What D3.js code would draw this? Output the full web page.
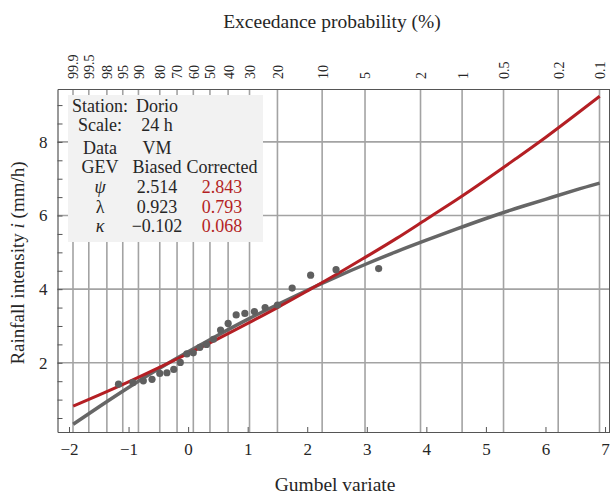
<!DOCTYPE html>
<html><head><meta charset="utf-8">
<script src="https://cdn.jsdelivr.net/npm/d3@7"></script>
<style>body{margin:0;background:#fff}</style>
</head><body><svg id="c" width="611" height="495"></svg>
<script>
// Observed annual maxima (Gumbel plotting positions and intensities, mm/h)
const obsGumbel = [-1.169,-0.927,-0.752,-0.606,-0.476,-0.356,-0.241,-0.131,-0.021,0.087,0.197,0.309,0.425,0.545,0.672,0.807,0.953,1.113,1.293,1.500,1.747,2.057,2.484,3.199];
const obsIntensity = [1.42,1.46,1.51,1.55,1.71,1.73,1.82,2.01,2.24,2.27,2.42,2.50,2.64,2.89,3.07,3.30,3.34,3.39,3.50,3.57,4.03,4.38,4.53,4.56];

// Fitted curves
const curveGumbel = [-1.93,-1.5,-1,-0.5,0,0.5,1,1.5,2,2.5,3,3.5,4,4.5,5,5.5,6,6.5,6.91];
const correctedIntensity = [0.82,1.12,1.48,1.86,2.25,2.65,3.07,3.50,3.95,4.41,4.89,5.38,5.90,6.42,6.97,7.54,8.12,8.73,9.24];
const biasedIntensity = [0.33,0.80,1.33,1.83,2.30,2.75,3.18,3.58,3.97,4.34,4.69,5.02,5.33,5.63,5.92,6.19,6.44,6.69,6.88];

// Axis ticks
const probTicks = [99.9,99.5,98,95,90,80,70,60,50,40,30,20,10,5,2,1,0.5,0.2,0.1];
const probLabels = ["99.9","99.5","98","95","90","80","70","60","50","40","30","20","10","5","2","1","0.5","0.2","0.1"];
const gumbelTicks = [-2,-1,0,1,2,3,4,5,6,7];
const intensityTicks = [2,4,6,8];
const intensityMinor = [0.5,1,1.5,2,2.5,3,3.5,4,4.5,5,5.5,6,6.5,7,7.5,8,8.5,9];

// Parameter table
const tableCol1 = ["Station:","Scale:","Data","GEV","ψ","λ","κ"];
const tableCol2 = ["Dorio","24 h","VM","Biased","2.514","0.923","−0.102"];
const tableCol3 = ["","","","Corrected","2.843","0.793","0.068"];

const RED = "#b41f24", GREY = "#666666", GRID = "#a3a3a3", AX = "#555", TXT = "#262626";
const FONT = "'Liberation Serif','Times New Roman',serif";

const L = 57.5, R = 609.5, T = 89, B = 432;
const x = d3.scaleLinear().domain([-2.193, 7.075]).range([L, R]);
const y = d3.scaleLinear().domain([0.12, 9.437]).range([B, T]);
const gumbelOfExceed = p => -Math.log(-Math.log(1 - p / 100));

const svg = d3.select("#c").style("font-family", FONT);

// gridlines
const g = svg.append("g");
g.selectAll(".vg").data(probTicks).enter().append("line")
  .attr("x1", d => x(gumbelOfExceed(d))).attr("x2", d => x(gumbelOfExceed(d)))
  .attr("y1", T).attr("y2", B).attr("stroke", GRID).attr("stroke-width", 1.6);
g.selectAll(".hg").data(intensityTicks).enter().append("line")
  .attr("x1", L).attr("x2", R).attr("y1", d => y(d)).attr("y2", d => y(d))
  .attr("stroke", GRID).attr("stroke-width", 1.6);

// axes
const axB = svg.append("g").attr("transform", `translate(0,${B})`)
  .call(d3.axisBottom(x).tickValues(gumbelTicks).tickSizeInner(-5).tickSizeOuter(0)
    .tickPadding(11).tickFormat(d => d < 0 ? "−" + Math.abs(d) : d));
const axL = svg.append("g").attr("transform", `translate(${L},0)`)
  .call(d3.axisLeft(y).tickValues(intensityMinor).tickSizeInner(-5).tickSizeOuter(0)
    .tickPadding(10).tickFormat(d => intensityTicks.includes(d) ? d : ""));
const axT = svg.append("g").attr("transform", `translate(0,${T})`)
  .call(d3.axisTop(x).tickValues(probTicks.map(gumbelOfExceed)).tickSizeInner(0).tickSizeOuter(0)
    .tickFormat((d, i) => probLabels[i]));
axT.selectAll("text").attr("transform", "rotate(-90)").attr("x", 10).attr("y", 0)
  .attr("dy", "0.35em").attr("text-anchor", "start").attr("font-size", 14);
svg.append("line").attr("x1", R).attr("x2", R).attr("y1", T).attr("y2", B).attr("stroke", AX);

[axB, axL, axT].forEach(a => {
  a.selectAll(".domain").attr("stroke", AX).attr("stroke-width", 1.2);
  a.selectAll(".tick line").attr("stroke", AX);
  a.selectAll("text").attr("fill", TXT).style("font-family", FONT);
});
axB.selectAll("text").attr("font-size", 17);
axL.selectAll("text").attr("font-size", 17);

// table
const tb = svg.append("g");
tb.append("rect").attr("x", 68).attr("y", 95).attr("width", 195).attr("height", 147).attr("fill", "#f2f2f2");
const rowY = [111.5, 131, 154, 173, 193, 212.5, 232];
const colX = [100, 157, 222];
[tableCol1, tableCol2, tableCol3].forEach((col, ci) => {
  tb.selectAll(null).data(col).enter().append("text")
    .attr("x", colX[ci]).attr("y", (d, i) => rowY[i])
    .attr("text-anchor", "middle").attr("font-size", 18)
    .attr("font-style", (d, i) => (ci === 0 && (i === 4 || i === 6)) ? "italic" : "normal")
    .attr("fill", (d, i) => (ci === 2 && i >= 4) ? RED : TXT)
    .text(d => d);
});

// curves
const line = d3.line().x(d => x(d[0])).y(d => y(d[1])).curve(d3.curveNatural);
svg.append("path").datum(curveGumbel.map((v, i) => [v, biasedIntensity[i]]))
  .attr("d", line).attr("fill", "none").attr("stroke", GREY).attr("stroke-width", 3.5);
svg.append("path").datum(curveGumbel.map((v, i) => [v, correctedIntensity[i]]))
  .attr("d", line).attr("fill", "none").attr("stroke", RED).attr("stroke-width", 3);

// points
svg.selectAll(".pt").data(obsGumbel).enter().append("circle")
  .attr("cx", d => x(d)).attr("cy", (d, i) => y(obsIntensity[i])).attr("r", 3.6)
  .attr("fill", "#5f5f5f");

// titles
svg.append("text").attr("x", 332).attr("y", 28).attr("text-anchor", "middle")
  .attr("font-size", 19.5).attr("fill", TXT).text("Exceedance probability (%)");
svg.append("text").attr("x", 335).attr("y", 491).attr("text-anchor", "middle")
  .attr("font-size", 19.5).attr("fill", TXT).text("Gumbel variate");
const yt = svg.append("text").attr("transform", "translate(24,263) rotate(-90)")
  .attr("text-anchor", "middle").attr("font-size", 19).attr("fill", TXT);
yt.append("tspan").text("Rainfall intensity ");
yt.append("tspan").attr("font-style", "italic").text("i");
yt.append("tspan").text(" (mm/h)");
</script></body></html>
